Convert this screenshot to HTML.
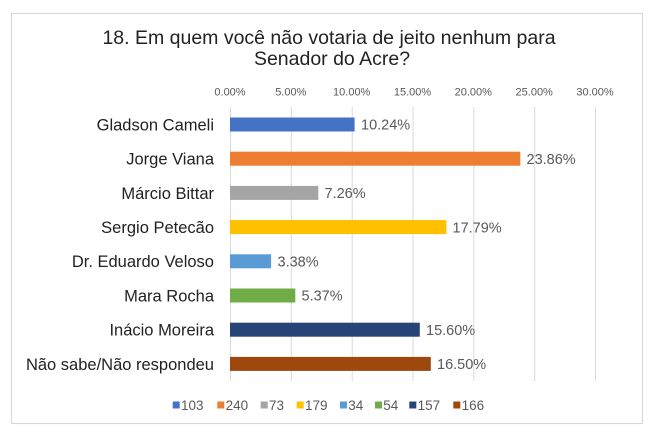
<!DOCTYPE html>
<html>
<head>
<meta charset="utf-8">
<style>
  html,body{margin:0;padding:0;background:#fff;}
  svg{display:block;}
  text{font-family:"Liberation Sans", Arial, sans-serif;}
</style>
</head>
<body>
<svg width="660" height="436" viewBox="0 0 660 436" xmlns="http://www.w3.org/2000/svg">
  <rect x="0" y="0" width="660" height="436" fill="#fff"/>
  <rect x="11.5" y="13.5" width="631" height="410" fill="#fff" stroke="#D9D9D9" stroke-width="1.2"/>

  <!-- Title -->
  <text x="329" y="44" font-size="19.5" fill="#222" text-anchor="middle">18. Em quem você não votaria de jeito nenhum para</text>
  <text x="332" y="65" font-size="19.5" fill="#222" text-anchor="middle">Senador do Acre?</text>

  <!-- Gridlines -->
  <g stroke="#D9D9D9" stroke-width="1">
    <line x1="230.5" y1="107" x2="230.5" y2="381"/>
    <line x1="291.3" y1="107" x2="291.3" y2="381"/>
    <line x1="352.2" y1="107" x2="352.2" y2="381"/>
    <line x1="413" y1="107" x2="413" y2="381"/>
    <line x1="473.8" y1="107" x2="473.8" y2="381"/>
    <line x1="534.7" y1="107" x2="534.7" y2="381"/>
    <line x1="595.5" y1="107" x2="595.5" y2="381"/>
  </g>

  <!-- Tick labels -->
  <g font-size="11" fill="#595959" text-anchor="middle">
    <text x="230" y="95.7">0.00%</text>
    <text x="290.8" y="95.7">5.00%</text>
    <text x="351.7" y="95.7">10.00%</text>
    <text x="412.5" y="95.7">15.00%</text>
    <text x="473.3" y="95.7">20.00%</text>
    <text x="534.2" y="95.7">25.00%</text>
    <text x="595" y="95.7">30.00%</text>
  </g>

  <!-- Category labels -->
  <g font-size="16.5" fill="#222" text-anchor="end">
    <text x="214" y="130.4">Gladson Cameli</text>
    <text x="214" y="164.6">Jorge Viana</text>
    <text x="214" y="198.8">Márcio Bittar</text>
    <text x="214" y="233">Sergio Petecão</text>
    <text x="214" y="267.2">Dr. Eduardo Veloso</text>
    <text x="214" y="301.4">Mara Rocha</text>
    <text x="214" y="335.6">Inácio Moreira</text>
    <text x="214" y="369.8">Não sabe/Não respondeu</text>
  </g>

  <!-- Bars -->
  <rect x="230" y="117.5" width="124.6" height="14" fill="#4472C4"/>
  <rect x="230" y="151.7" width="290.3" height="14" fill="#ED7D31"/>
  <rect x="230" y="185.9" width="88.3" height="14" fill="#A5A5A5"/>
  <rect x="230" y="220.1" width="216.4" height="14" fill="#FFC000"/>
  <rect x="230" y="254.3" width="41.1" height="14" fill="#5B9BD5"/>
  <rect x="230" y="288.5" width="65.3" height="14" fill="#70AD47"/>
  <rect x="230" y="322.7" width="189.8" height="14" fill="#264478"/>
  <rect x="230" y="356.9" width="200.8" height="14" fill="#9E480E"/>

  <!-- Value labels -->
  <g font-size="14.5" fill="#595959">
    <text x="361" y="129.7">10.24%</text>
    <text x="526.5" y="163.9">23.86%</text>
    <text x="324.5" y="198.1">7.26%</text>
    <text x="452.5" y="232.3">17.79%</text>
    <text x="277.5" y="266.5">3.38%</text>
    <text x="301.5" y="300.7">5.37%</text>
    <text x="426" y="334.9">15.60%</text>
    <text x="437" y="369.1">16.50%</text>
  </g>

  <!-- Legend -->
  <g font-size="13.5" fill="#595959">
    <rect x="172.7" y="401.5" width="7" height="7" fill="#4472C4"/>
    <text x="181" y="409.8">103</text>
    <rect x="217.3" y="401.5" width="7" height="7" fill="#ED7D31"/>
    <text x="225.6" y="409.8">240</text>
    <rect x="260.7" y="401.5" width="7" height="7" fill="#A5A5A5"/>
    <text x="269" y="409.8">73</text>
    <rect x="296.7" y="401.5" width="7" height="7" fill="#FFC000"/>
    <text x="305" y="409.8">179</text>
    <rect x="340" y="401.5" width="7" height="7" fill="#5B9BD5"/>
    <text x="348.3" y="409.8">34</text>
    <rect x="375" y="401.5" width="7" height="7" fill="#70AD47"/>
    <text x="383.3" y="409.8">54</text>
    <rect x="409.3" y="401.5" width="7" height="7" fill="#264478"/>
    <text x="417.6" y="409.8">157</text>
    <rect x="453.3" y="401.5" width="7" height="7" fill="#9E480E"/>
    <text x="461.6" y="409.8">166</text>
  </g>
</svg>
</body>
</html>
